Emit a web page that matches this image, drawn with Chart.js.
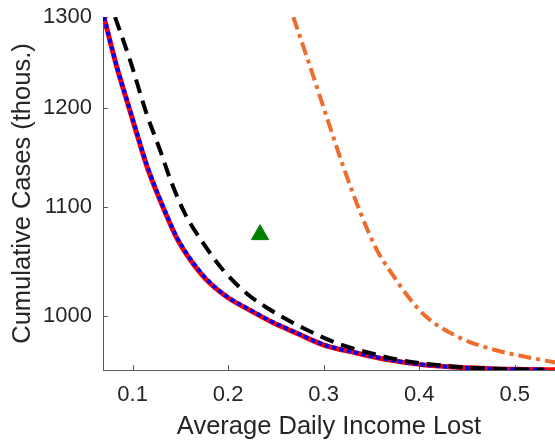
<!DOCTYPE html>
<html>
<head>
<meta charset="utf-8">
<script src="https://cdn.jsdelivr.net/npm/chart.js@4/dist/chart.umd.min.js"></script>
<style>
  html, body { margin: 0; padding: 0; background: #ffffff; overflow: hidden; }
  #wrap { width: 555px; height: 444px; }
</style>
</head>
<body>
<div id="wrap"><canvas id="c" width="555" height="444"></canvas></div>
<script>
// Tick positions
const xTicks = [0.1, 0.2, 0.3, 0.4, 0.5];
const yTicks = [1000, 1100, 1200, 1300];

// Solid red curve
const redX = [0.070, 0.0832, 0.0937, 0.1042, 0.1147, 0.1251, 0.1356, 0.1461, 0.160, 0.1775, 0.1984, 0.2228, 0.2472, 0.2717, 0.2996, 0.3345, 0.3694, 0.4043, 0.440, 0.475, 0.510, 0.545];
const redY = [1300, 1245, 1209, 1174, 1141, 1115, 1092, 1071, 1051, 1032, 1017, 1005, 994, 985, 975, 968, 962, 958, 956, 954.8, 954.2, 953.8];

// Dotted blue curve
const blueX = [0.070, 0.0832, 0.0937, 0.1042, 0.1147, 0.1251, 0.1356, 0.1461, 0.160, 0.1775, 0.1984, 0.2228, 0.2472, 0.2717, 0.2996, 0.3345, 0.3694, 0.4043, 0.440, 0.475, 0.510, 0.533];
const blueY = [1300, 1246, 1210, 1175.5, 1142.5, 1116.5, 1093, 1072, 1052, 1033, 1017.5, 1005.5, 994.5, 985.3, 975.3, 968.2, 962.2, 958.1, 956, 954.8, 954.2, 954];

// Dashed black curve
const blackX = [0.0816, 0.0972, 0.1147, 0.1286, 0.1408, 0.1548, 0.1739, 0.1949, 0.2194, 0.2508, 0.2822, 0.3136, 0.3485, 0.3834, 0.4183, 0.4532, 0.490, 0.530];
const blackY = [1300, 1252, 1194, 1157, 1124, 1094, 1066, 1041, 1020, 1002, 988, 976.5, 968, 961.5, 958, 955.6, 954.5, 954];

// Dash-dot orange curve
const orangeX = [0.2682, 0.2857, 0.3031, 0.3206, 0.338, 0.3555, 0.3729, 0.3904, 0.4079, 0.4427, 0.4776, 0.5100, 0.543];
const orangeY = [1300, 1245, 1191, 1140, 1096, 1060, 1036, 1015, 999, 981, 971, 965, 960];

// Single green marker
const markX = [0.2334];
const markY = [1074];

const pts = (xs, ys) => xs.map((x, i) => ({ x: x, y: ys[i] }));

const textColor = '#262626';
const axisColor = '#5a5a5a';
const family = "'Liberation Sans', Arial, Helvetica, sans-serif";

// Inward-facing tick marks, placed through the scales
const inwardTicks = {
  id: 'inwardTicks',
  beforeDatasetsDraw(chart) {
    const { ctx, chartArea, scales } = chart;
    const len = 5;
    ctx.save();
    ctx.strokeStyle = axisColor;
    ctx.lineWidth = 1;
    ctx.beginPath();
    xTicks.forEach(v => {
      const px = Math.round(scales.x.getPixelForValue(v)) + 0.5;
      ctx.moveTo(px, chartArea.bottom);
      ctx.lineTo(px, chartArea.bottom - len);
    });
    yTicks.forEach(v => {
      const py = Math.round(scales.y.getPixelForValue(v)) + 0.5;
      ctx.moveTo(chartArea.left, py);
      ctx.lineTo(chartArea.left + len, py);
    });
    ctx.stroke();
    ctx.restore();
  }
};

new Chart(document.getElementById('c'), {
  type: 'line',
  data: {
    datasets: [
      {
        data: pts(redX, redY), borderColor: '#ff0000', borderWidth: 5,
        pointRadius: 0, cubicInterpolationMode: 'monotone', order: 5
      },
      {
        data: pts(blueX, blueY), borderColor: '#0000ff', borderWidth: 4,
        borderDash: [4.5, 3], pointRadius: 0, cubicInterpolationMode: 'monotone', order: 4
      },
      {
        data: pts(blackX, blackY), borderColor: '#000000', borderWidth: 4,
        borderDash: [14, 8], pointRadius: 0, cubicInterpolationMode: 'monotone', order: 3
      },
      {
        data: pts(orangeX, orangeY), borderColor: '#ed6d2f', borderWidth: 4,
        borderDash: [13, 5, 4, 5], pointRadius: 0, cubicInterpolationMode: 'monotone', order: 2
      },
      {
        data: pts(markX, markY), showLine: false, pointStyle: 'triangle',
        pointRadius: 10, pointBackgroundColor: '#008000', pointBorderColor: '#008000',
        pointBorderWidth: 1, order: 1
      }
    ]
  },
  options: {
    responsive: false,
    animation: false,
    events: [],
    layout: { autoPadding: false, padding: { top: 17, right: 0, left: 0, bottom: 0 } },
    plugins: { legend: { display: false }, tooltip: { enabled: false } },
    scales: {
      x: {
        type: 'linear',
        min: 0.069,
        max: 0.5422,
        afterBuildTicks: s => { s.ticks = xTicks.map(v => ({ value: v })); },
        afterFit: s => { s.height = 74; s.paddingLeft = 0; s.paddingRight = 0; },
        grid: { display: false, drawTicks: false },
        border: { display: true, color: axisColor, width: 1 },
        ticks: {
          padding: 12, color: textColor, maxRotation: 0, autoSkip: false,
          font: { family: family, size: 22 },
          callback: v => Number(v).toFixed(1)
        },
        title: {
          display: true, text: 'Average Daily Income Lost', color: textColor,
          font: { family: family, size: 25.5 }, padding: { top: 0, bottom: 2 }
        }
      },
      y: {
        type: 'logarithmic',
        min: 953.7,
        max: 1300,
        afterBuildTicks: s => { s.ticks = yTicks.map(v => ({ value: v })); },
        afterFit: s => { s.width = 103; s.paddingTop = 0; s.paddingBottom = 0; },
        grid: { display: false, drawTicks: false },
        border: { display: true, color: axisColor, width: 1 },
        ticks: {
          padding: 11, color: textColor, autoSkip: false,
          font: { family: family, size: 22 },
          callback: v => String(v)
        },
        title: {
          display: true, text: 'Cumulative Cases (thous.)', color: textColor,
          font: { family: family, size: 25.5 }, padding: { top: 8, bottom: 0 }
        }
      }
    }
  },
  plugins: [inwardTicks]
});
</script>
</body>
</html>
